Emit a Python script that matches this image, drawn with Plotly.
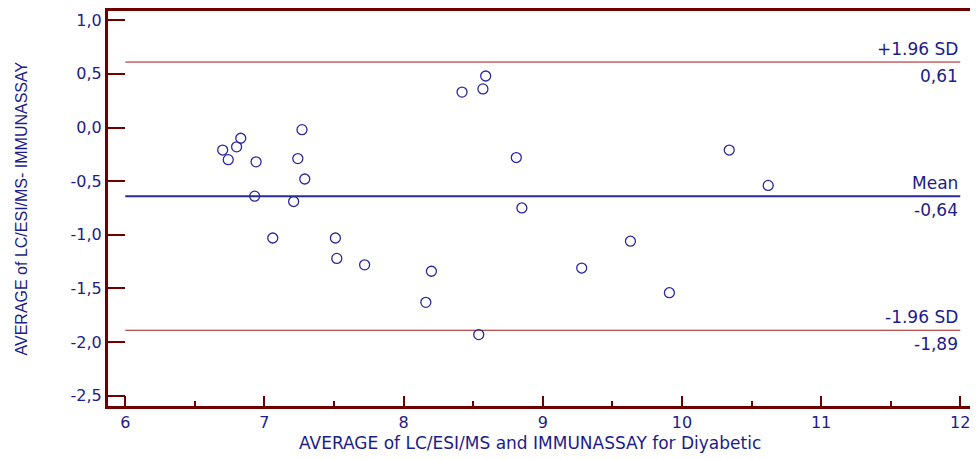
import plotly.graph_objects as go

# Bland-Altman data
avg_values = [6.70, 6.74, 6.80, 6.83, 6.94, 6.93, 7.06, 7.24, 7.27, 7.29, 7.21,
              7.51, 7.52, 7.72, 8.16, 8.20, 8.42, 8.57, 8.59, 8.54, 8.81, 8.85,
              9.28, 9.63, 9.91, 10.34, 10.62]
diff_values = [-0.21, -0.30, -0.18, -0.10, -0.32, -0.64, -1.03, -0.29, -0.02, -0.48, -0.69,
               -1.03, -1.22, -1.28, -1.63, -1.34, 0.33, 0.36, 0.48, -1.93, -0.28, -0.75,
               -1.31, -1.06, -1.54, -0.21, -0.54]

mean_diff = -0.64
upper_sd = 0.61
lower_sd = -1.89
ref_labels_top = ["+1.96 SD", "Mean", "-1.96 SD"]
ref_labels_bottom = ["0,61", "-0,64", "-1,89"]
ref_values = [upper_sd, mean_diff, lower_sd]

x_tickvals = [6, 7, 8, 9, 10, 11, 12]
x_ticktext = ["6", "7", "8", "9", "10", "11", "12"]
x_minor_tickvals = [6.5, 7.5, 8.5, 9.5, 10.5, 11.5]
y_tickvals = [1.0, 0.5, 0.0, -0.5, -1.0, -1.5, -2.0, -2.5]
y_ticktext = ["1,0", "0,5", "0,0", "-0,5", "-1,0", "-1,5", "-2,0", "-2,5"]

x_title = "AVERAGE of LC/ESI/MS and IMMUNASSAY for Diyabetic"
y_title = "AVERAGE of LC/ESI/MS- IMMUNASSAY"

NAVY = "#1c1c8a"
MAROON = "#6e0000"
RED = "#a01818"
BLUE = "#2a2a9c"
FONT = "DejaVu Sans"

x_line = [6, 12]

fig = go.Figure()

# reference lines
fig.add_trace(go.Scatter(x=x_line, y=[upper_sd, upper_sd], mode="lines",
                         line=dict(color=RED, width=1), hoverinfo="skip", showlegend=False))
fig.add_trace(go.Scatter(x=x_line, y=[lower_sd, lower_sd], mode="lines",
                         line=dict(color=RED, width=1), hoverinfo="skip", showlegend=False))
fig.add_trace(go.Scatter(x=x_line, y=[mean_diff, mean_diff], mode="lines",
                         line=dict(color=BLUE, width=2), hoverinfo="skip", showlegend=False))

# points
fig.add_trace(go.Scatter(x=avg_values, y=diff_values, mode="markers",
                         marker=dict(symbol="circle-open", size=10,
                                     color=BLUE, line=dict(width=1.3, color=BLUE)),
                         showlegend=False))

annotations = []
for top, bottom, val in zip(ref_labels_top, ref_labels_bottom, ref_values):
    annotations.append(dict(x=12, y=val, xref="x", yref="y", text=top,
                            xanchor="right", yanchor="bottom", yshift=1,
                            showarrow=False, font=dict(family=FONT, size=17, color=NAVY)))
    annotations.append(dict(x=12, y=val, xref="x", yref="y", text=bottom,
                            xanchor="right", yanchor="top", yshift=-2,
                            showarrow=False, font=dict(family=FONT, size=17, color=NAVY)))

annotations.append(dict(x=(530 - 108) / 867, y=(406 - 443) / 398, xref="paper", yref="paper",
                        text=x_title, xanchor="center", yanchor="middle", showarrow=False,
                        font=dict(family=FONT, size=17, color=NAVY)))
annotations.append(dict(x=(21 - 108) / 867, y=(406 - 207) / 398, xref="paper", yref="paper",
                        text=y_title, xanchor="center", yanchor="middle", showarrow=False,
                        textangle=-90,
                        font=dict(family="Liberation Sans", size=16, color=NAVY)))

fig.update_layout(
    width=970, height=451,
    margin=dict(l=100, r=3, t=0, b=53),
    paper_bgcolor="white", plot_bgcolor="white",
    annotations=annotations,
    xaxis=dict(range=[5.876, 12.106], showgrid=False, zeroline=False,
               tickvals=x_tickvals, ticktext=x_ticktext,
               ticks="inside", ticklen=10, tickwidth=2, tickcolor=MAROON,
               minor=dict(ticks="inside", ticklen=5, tickwidth=2, tickcolor=MAROON,
                          tickvals=x_minor_tickvals, showgrid=False),
               showline=True, linecolor=MAROON, linewidth=3, mirror=True,
               tickfont=dict(family=FONT, size=16, color=NAVY)),
    yaxis=dict(range=[-2.596, 1.086], showgrid=False, zeroline=False,
               tickvals=y_tickvals, ticktext=y_ticktext,
               ticks="inside", ticklen=17, tickwidth=2, tickcolor=MAROON,
               showline=True, linecolor=MAROON, linewidth=3, mirror=True,
               tickfont=dict(family=FONT, size=16, color=NAVY)),
)

fig.write_html("out.html")
